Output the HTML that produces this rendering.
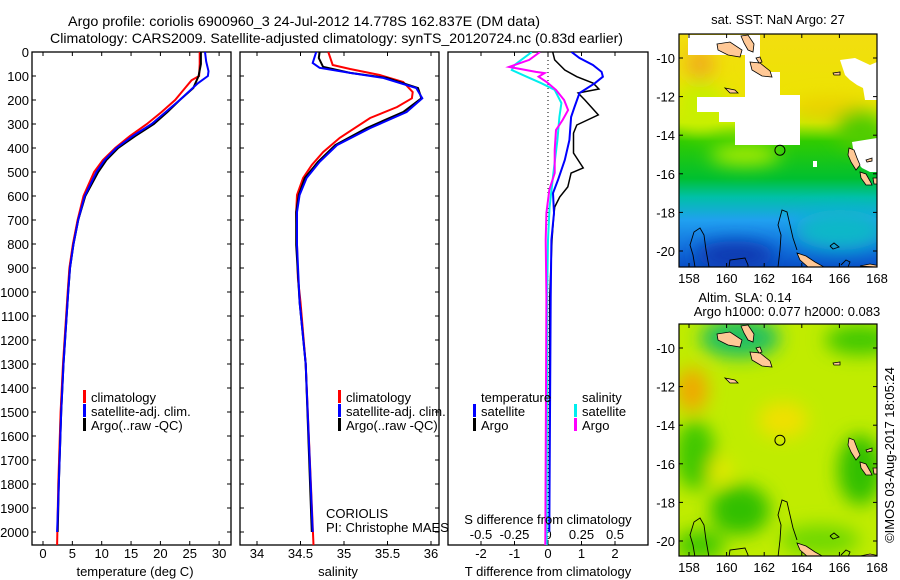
<!DOCTYPE html>
<html><head><meta charset="utf-8"><style>
body{margin:0;background:#fff}
svg{display:block;font-family:"Liberation Sans",sans-serif;font-size:13px}
</style></head><body>
<svg id="c" width="900" height="580" viewBox="0 0 900 580" xmlns="http://www.w3.org/2000/svg">
<defs>
<clipPath id="cp1"><rect x="32" y="52" width="199" height="493"/></clipPath>
<clipPath id="cp2"><rect x="240" y="52" width="199" height="493"/></clipPath>
<clipPath id="cp3"><rect x="448" y="52" width="200" height="493"/></clipPath>
<clipPath id="cm1"><rect x="679" y="34" width="198" height="233"/></clipPath>
<clipPath id="cm2"><rect x="679" y="324" width="198" height="232"/></clipPath>
<linearGradient id="sstg" x1="0" y1="0" x2="0" y2="1">
<stop offset="0" stop-color="#f2de10"/><stop offset="0.3" stop-color="#ece400"/>
<stop offset="0.38" stop-color="#c8ee00"/><stop offset="0.46" stop-color="#30cc00"/>
<stop offset="0.62" stop-color="#00c030"/><stop offset="0.7" stop-color="#00c0a8"/>
<stop offset="0.8" stop-color="#20a0f0"/><stop offset="0.9" stop-color="#1478e0"/>
<stop offset="1" stop-color="#0850c8"/></linearGradient>
<filter id="bl" x="-50%" y="-50%" width="200%" height="200%"><feGaussianBlur stdDeviation="9"/></filter>
</defs>
<text x="68" y="26" font-size="14" textLength="472" lengthAdjust="spacingAndGlyphs">Argo profile: coriolis 6900960_3 24-Jul-2012 14.778S 162.837E (DM data)</text>
<text x="50" y="43" font-size="14" textLength="573" lengthAdjust="spacingAndGlyphs">Climatology: CARS2009. Satellite-adjusted climatology: synTS_20120724.nc (0.83d earlier)</text>
<g id="plots"></g>
<g id="maps"></g>
</svg>
<script>
// ---- data ----
const tClimDepth=[0,50,100,118,150,200,250,300,350,400,450,500,600,700,800,900,1000,1300,1500,1800,2054];
const tClim=[26.7,26.7,26.6,25.3,24.2,22.5,20.2,17.7,14.8,12.3,10.2,8.7,6.9,5.9,5.1,4.5,4.2,3.4,3.0,2.6,2.4];
const tArgoDepth=[0,50,100,150,200,250,300,350,400,450,500,600,700,800,900,1000,1300,1500,1800,2000];
const tArgo=[26.9,26.9,26.5,25.6,23.3,21.2,18.9,15.7,12.8,10.8,9.4,7.2,6.0,5.2,4.6,4.3,3.5,3.1,2.7,2.5];
const tSatDepth=[0,40,80,100,130,200,250,300,350,400,450,500,600,700,800,900,1000,1300,1500,1800,2000];
const tSat=[27.6,27.8,28.2,28.1,26.4,23.3,20.9,18.5,15.3,12.5,10.5,9.1,7.1,6.0,5.2,4.6,4.3,3.5,3.1,2.7,2.4];
const sClimDepth=[0,54,71,96,125,167,193,229,275,358,417,471,525,596,667,804,942,1042,1300,2054];
const sClim=[34.82,34.87,35.07,35.41,35.68,35.79,35.78,35.61,35.30,34.95,34.76,34.63,34.53,34.46,34.45,34.46,34.47,34.50,34.56,34.65];
const sArgoDepth=[0,25,62,87,108,150,193,250,317,388,458,525,596,667,804,1042,1300,2000];
const sArgo=[34.72,34.71,34.76,35.07,35.49,35.85,35.89,35.68,35.26,34.90,34.70,34.55,34.48,34.45,34.45,34.49,34.56,34.63];
const sSatDepth=[0,46,66,87,108,150,193,250,317,388,458,525,596,667,804,1042,1300,2000];
const sSat=[34.68,34.64,34.72,35.07,35.45,35.83,35.90,35.72,35.30,34.92,34.72,34.57,34.49,34.46,34.46,34.49,34.56,34.64];
const dTArgoDepth=[0,33,75,103,130,154,171,200,262,304,338,421,483,504,562,604,646,700,783,1021,2000];
const dTArgo=[0.14,0.2,0.5,0.86,1.35,1.52,0.9,1.1,1.5,0.86,0.76,0.76,1.05,0.69,0.59,0.35,0.2,0.16,0.12,0.05,0.04];
const dTSatDepth=[0,25,54,83,103,130,171,229,271,367,450,533,588,671,783,1021,2000];
const dTSat=[0.7,0.94,1.34,1.6,1.64,1.4,0.94,0.79,0.69,0.64,0.5,0.3,0.15,0.18,0.1,0.08,0.04];
const dSSatDepth=[0,33,54,75,103,130,158,213,271,367,504,646,783,1021,2054];
const dSSat=[-0.12,-0.2,-0.25,-0.27,-0.16,-0.05,0.05,0.1,0.085,0.07,0.04,0.012,0,-0.007,-0.01];
const dSArgoDepth=[0,33,62,83,88,103,125,158,200,242,283,325,408,504,575,671,783,1021,2054];
const dSArgo=[-0.06,-0.14,-0.29,-0.09,-0.025,-0.07,-0.01,0.06,0.12,0.15,0.11,0.06,0.05,0.05,0.01,-0.012,-0.017,-0.012,-0.02];
const depthTicks=[0,100,200,300,400,500,600,700,800,900,1000,1100,1200,1300,1400,1500,1600,1700,1800,1900,2000];
const tTicks=[0,5,10,15,20,25,30];
const sTicks=[34,34.5,35,35.5,36];
const dTTicks=[-2,-1,0,1,2];
const dSTicks=[-0.5,-0.25,0,0.25,0.5];
const dSTickLabels=["-0.5","-0.25","0","0.25","0.5"];
const latTicks=[-10,-12,-14,-16,-18,-20];
const lonTicks=[158,160,162,164,166,168];
const argoLon=162.837, argoLat=-14.778;

// ---- scales ----
const yD=d=>52+d*0.24;
const xT=t=>43+t*5.87;
const xS=s=>257+(s-34)*87;
const xDT=v=>548+v*33.5;
const xDS=v=>548+v*134;
const mx=lon=>689+(lon-158)*18.8;
const my1=lat=>58+(-10-lat)*19.3;
const my2=lat=>348+(-10-lat)*19.3;

const NS="http://www.w3.org/2000/svg";
function mk(tag,attrs,parent,txt){const e=document.createElementNS(NS,tag);for(const k in attrs)e.setAttribute(k,attrs[k]);if(txt!==undefined)e.textContent=txt;parent.appendChild(e);return e;}
const P=document.getElementById('plots');

function line(xs,ds,xf,color,clip,name,w){
  const pts=xs.map((v,i)=>xf(v).toFixed(1)+','+yD(ds[i]).toFixed(1)).join(' ');
  const el=mk('polyline',{points:pts,fill:'none',stroke:color,'stroke-width':w||2,'clip-path':'url(#'+clip+')'},P);
  
  
}
function frame(x,w,name){
  const r=mk('rect',{x:x,y:52,width:w,height:493,fill:'none',stroke:'#000','stroke-width':1.3},P);
  
  
}
function legend(x,y,color,label,name){
  const g=mk('g',{},P);
  
  
  mk('rect',{x:x,y:y-10,width:3,height:13,fill:color},g);
  mk('text',{x:x+8,y:y+2},g,label);
}

// panel 1
frame(32,199,'temperature-panel');
depthTicks.forEach(d=>{
  const t=mk('text',{x:29,y:yD(d)+5,'text-anchor':'end'},P,String(d));
  
  
  mk('line',{x1:32,x2:36,y1:yD(d),y2:yD(d),stroke:'#000'},P);
  mk('line',{x1:227,x2:231,y1:yD(d),y2:yD(d),stroke:'#000'},P);
  mk('line',{x1:240,x2:244,y1:yD(d),y2:yD(d),stroke:'#000'},P);
  mk('line',{x1:435,x2:439,y1:yD(d),y2:yD(d),stroke:'#000'},P);
});
tTicks.forEach(t=>{
  const l=mk('text',{x:xT(t),y:558,'text-anchor':'middle'},P,String(t));
  
  
  mk('line',{x1:xT(t),x2:xT(t),y1:52,y2:56,stroke:'#000'},P);
  mk('line',{x1:xT(t),x2:xT(t),y1:541,y2:545,stroke:'#000'},P);
});
line(tClim,tClimDepth,xT,'#f00','cp1','temperature-climatology-line');
line(tArgo,tArgoDepth,xT,'#000','cp1','temperature-argo-line');
line(tSat,tSatDepth,xT,'#00f','cp1','temperature-satellite-line');
legend(83,400,'#f00','climatology','legend-climatology');
legend(83,414,'#00f','satellite-adj. clim.','legend-satellite-adj');
legend(83,428,'#000','Argo(..raw -QC)','legend-argo');
let tx=mk('text',{x:135,y:576,'text-anchor':'middle'},P,'temperature (deg C)');



// panel 2
frame(240,199,'salinity-panel');
sTicks.forEach(s=>{
  const l=mk('text',{x:xS(s),y:558,'text-anchor':'middle'},P,String(s));
  
  
  mk('line',{x1:xS(s),x2:xS(s),y1:52,y2:56,stroke:'#000'},P);
  mk('line',{x1:xS(s),x2:xS(s),y1:541,y2:545,stroke:'#000'},P);
});
line(sClim,sClimDepth,xS,'#f00','cp2','salinity-climatology-line');
line(sArgo,sArgoDepth,xS,'#000','cp2','salinity-argo-line');
line(sSat,sSatDepth,xS,'#00f','cp2','salinity-satellite-line');
legend(338,400,'#f00','climatology','legend-climatology-2');
legend(338,414,'#00f','satellite-adj. clim.','legend-satellite-adj-2');
legend(338,428,'#000','Argo(..raw -QC)','legend-argo-2');
tx=mk('text',{x:338,y:576,'text-anchor':'middle'},P,'salinity');


tx=mk('text',{x:326,y:518},P,'CORIOLIS');


tx=mk('text',{x:326,y:532},P,'PI: Christophe MAES');



// panel 3
frame(448,200,'difference-panel');
mk('line',{x1:548,x2:548,y1:52,y2:545,stroke:'#000','stroke-dasharray':'1,3'},P);
dTTicks.forEach(v=>{
  const l=mk('text',{x:xDT(v),y:558,'text-anchor':'middle'},P,String(v));
  
  
  mk('line',{x1:xDT(v),x2:xDT(v),y1:52,y2:56,stroke:'#000'},P);
  mk('line',{x1:xDT(v),x2:xDT(v),y1:541,y2:545,stroke:'#000'},P);
});
dSTicks.forEach((v,i)=>{
  const l=mk('text',{x:xDS(v),y:539,'text-anchor':'middle'},P,dSTickLabels[i]);
  
  
});
line(dSSat,dSSatDepth,xDS,'#0ee','cp3','s-diff-satellite-line');
line(dSArgo,dSArgoDepth,xDS,'#f0f','cp3','s-diff-argo-line');
line(dTArgo,dTArgoDepth,xDT,'#000','cp3','t-diff-argo-line',1.5);
line(dTSat,dTSatDepth,xDT,'#00f','cp3','t-diff-satellite-line');
tx=mk('text',{x:481,y:402},P,'temperature');


tx=mk('text',{x:582,y:402},P,'salinity');


legend(473,414,'#00f','satellite','legend-t-satellite');
legend(473,428,'#000','Argo','legend-t-argo');
legend(574,414,'#0ee','satellite','legend-s-satellite');
legend(574,428,'#f0f','Argo','legend-s-argo');
tx=mk('text',{x:548,y:524,'text-anchor':'middle'},P,'S difference from climatology');


tx=mk('text',{x:548,y:576,'text-anchor':'middle'},P,'T difference from climatology');



// ---- maps ----
const M=document.getElementById('maps');
const land='#ffc896';
function islands(g){
  const shapes=[
   "717,44 730,42 742,50 740,57 728,55 718,50",
   "741,36 748,35 754,44 753,52 748,50 744,43",
   "750,62 760,63 770,71 772,77 762,76 752,70",
   "756,58 760,57 762,62 759,63",
   "725,88 735,90 738,93 730,93",
   "849,148 854,150 857,158 860,165 856,170 851,162 848,155",
   "860,172 866,174 870,181 872,185 866,185 861,178",
   "873,178 877,178 877,184 874,184",
   "797,253 806,256 815,262 824,267 808,267 800,260",
   "833,73 840,72 840,75 834,75",
   "866,160 872,158 872,161 867,162",
   "880,266 870,264 860,266 876,267"];
  shapes.forEach(s=>mk('polygon',{points:s,fill:land,stroke:'#000','stroke-width':0.8},g));
  const cont=["695,267 693,255 690,245 694,232 700,228 704,235 706,250 709,267",
              "778,267 780,250 781,235 778,225 782,210 787,212 790,225 793,238 797,250",
              "729,267 730,260 745,258 748,265 748,267",
              "830,246 834,243 839,247 833,249 830,246",
              "841,265 846,260 850,262 848,267"];
  cont.forEach(s=>mk('polyline',{points:s,fill:'none',stroke:'#000','stroke-width':0.9},g));
}
function mapAxes(y0,h,myf,name){
  const r=mk('rect',{x:679,y:y0,width:198,height:h,fill:'none',stroke:'#000','stroke-width':1.2},M);
  
  
  latTicks.forEach(l=>{
    const t=mk('text',{x:675,y:myf(l)+5,'text-anchor':'end'},M,String(l));
    
    
    mk('line',{x1:679,x2:683,y1:myf(l),y2:myf(l),stroke:'#000'},M);
    mk('line',{x1:873,x2:877,y1:myf(l),y2:myf(l),stroke:'#000'},M);
  });
  lonTicks.forEach(l=>{
    const t=mk('text',{x:mx(l),y:y0+h+16,'text-anchor':'middle'},M,String(l));
    
    
    mk('line',{x1:mx(l),x2:mx(l),y1:y0,y2:y0+4,stroke:'#000'},M);
    mk('line',{x1:mx(l),x2:mx(l),y1:y0+h-4,y2:y0+h,stroke:'#000'},M);
  });
}
// map 1 SST
const g1=mk('g',{'clip-path':'url(#cm1)'},M);


mk('rect',{x:679,y:34,width:198,height:233,fill:'url(#sstg)'},g1);
const bl1=mk('g',{filter:'url(#bl)'},g1);
mk('ellipse',{cx:700,cy:65,rx:14,ry:18,fill:'#f0a020',opacity:0.8},bl1);
mk('ellipse',{cx:700,cy:105,rx:25,ry:25,fill:'#c8f000'},bl1);
mk('ellipse',{cx:745,cy:155,rx:35,ry:10,fill:'#b0ee00'},bl1);
mk('ellipse',{cx:830,cy:110,rx:40,ry:12,fill:'#e8c800',opacity:0.7},bl1);
mk('ellipse',{cx:860,cy:130,rx:25,ry:20,fill:'#50cc00'},bl1);
mk('ellipse',{cx:735,cy:255,rx:40,ry:14,fill:'#0838b0'},bl1);
mk('ellipse',{cx:840,cy:230,rx:45,ry:20,fill:'#10b8c8'},bl1);
const whiteRects=[[688,35,72,20],[745,55,15,45],[697,97,63,15],[735,105,62,40],[757,72,23,30],[760,95,40,50],[719,112,20,10]];
whiteRects.forEach(r=>mk('rect',{x:r[0],y:r[1],width:r[2],height:r[3],fill:'#fff'},g1));
const white=["840,60 855,58 870,65 877,62 877,100 865,100 863,88 857,85 850,80 845,75",
  "852,142 877,138 877,172 870,172 862,168 855,160",
  "813,161 817,161 817,167 813,167"];
white.forEach(s=>mk('polygon',{points:s,fill:'#fff'},g1));
islands(g1);
mk('circle',{cx:mx(argoLon),cy:my1(argoLat),r:5,fill:'none',stroke:'#000','stroke-width':1},g1);
mapAxes(34,233,my1,'sst-map');
tx=mk('text',{x:778,y:24,'text-anchor':'middle'},M,'sat. SST: NaN Argo: 27');



// map 2 SLA
const g2=mk('g',{'clip-path':'url(#cm2)'},M);


mk('rect',{x:679,y:324,width:198,height:232,fill:'#c0ec00'},g2);
const bl2=mk('g',{filter:'url(#bl)'},g2);
mk('ellipse',{cx:740,cy:338,rx:40,ry:20,fill:'#20c060'},bl2);
mk('ellipse',{cx:860,cy:340,rx:35,ry:15,fill:'#40c800'},bl2);
mk('ellipse',{cx:692,cy:390,rx:16,ry:22,fill:'#f0a800'},bl2);
mk('ellipse',{cx:783,cy:420,rx:25,ry:18,fill:'#f0e000'},bl2);
mk('ellipse',{cx:695,cy:455,rx:20,ry:35,fill:'#40c800'},bl2);
mk('ellipse',{cx:740,cy:510,rx:30,ry:25,fill:'#30c000'},bl2);
mk('ellipse',{cx:860,cy:470,rx:22,ry:35,fill:'#30c000'},bl2);
mk('ellipse',{cx:700,cy:545,rx:25,ry:15,fill:'#40c800'},bl2);
mk('ellipse',{cx:820,cy:540,rx:40,ry:15,fill:'#70d800'},bl2);
mk('ellipse',{cx:720,cy:470,rx:12,ry:12,fill:'#e8e800'},bl2);
const g2i=mk('g',{transform:'translate(0,290)'},g2);
islands(g2i);
mk('circle',{cx:mx(argoLon),cy:my2(argoLat),r:5,fill:'none',stroke:'#000','stroke-width':1},g2);
mapAxes(324,232,my2,'sla-map');
tx=mk('text',{x:745,y:302,'text-anchor':'middle'},M,'Altim. SLA: 0.14');


tx=mk('text',{x:787,y:316,'text-anchor':'middle'},M,'Argo h1000: 0.077 h2000: 0.083');


tx=mk('text',{x:0,y:0,'text-anchor':'middle',transform:'translate(894,455) rotate(-90)'},M,'©IMOS 03-Aug-2017 18:05:24');


</script>
</body></html>
